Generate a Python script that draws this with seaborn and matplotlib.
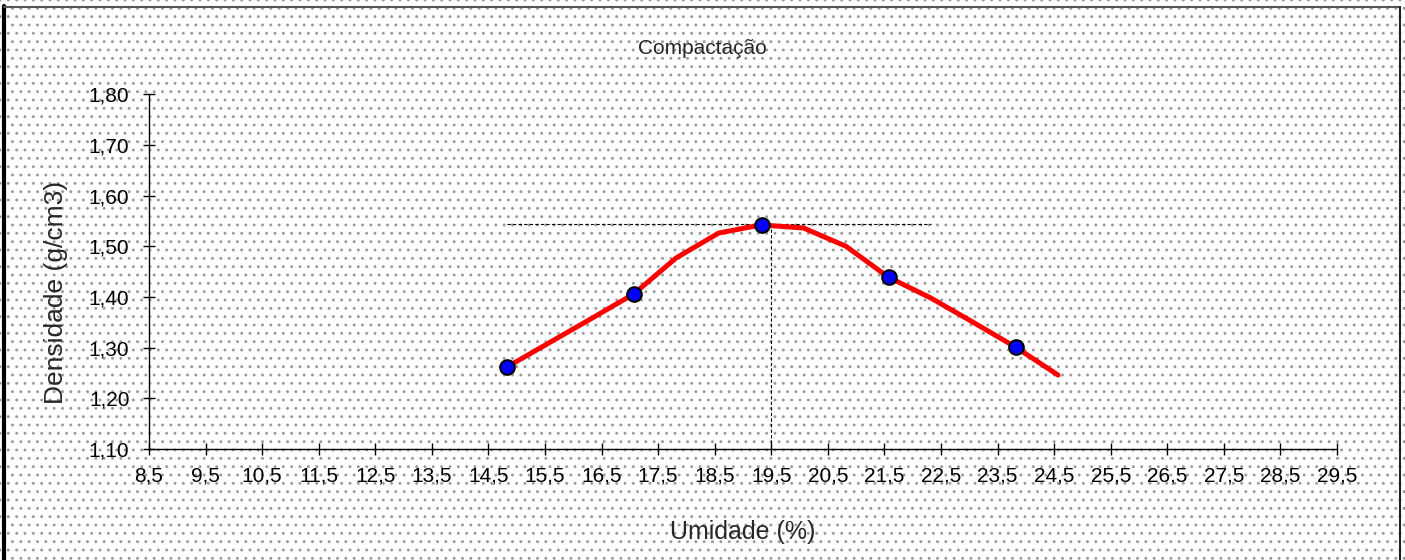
import matplotlib
matplotlib.use("Agg")
import matplotlib.pyplot as plt
import matplotlib.ticker as mticker
from matplotlib.patches import Rectangle
from matplotlib.lines import Line2D
import seaborn as sns
import pandas as pd
import numpy as np

# Ensaio de compactação - pontos medidos
umidade_pts = [14.83, 17.07, 19.34, 21.58, 23.83]
densidade_pts = [1.262, 1.406, 1.542, 1.439, 1.301]

# Curva ajustada
umidade_curva = [14.83, 15.58, 16.33, 17.07, 17.82, 18.57, 19.32, 20.07,
                 20.82, 21.57, 22.32, 23.07, 23.82, 24.57]
densidade_curva = [1.262, 1.310, 1.358, 1.406, 1.477, 1.526, 1.542, 1.536,
                   1.500, 1.439, 1.398, 1.350, 1.301, 1.246]

# Umidade ótima e densidade máxima
umidade_otima = 19.5
densidade_max = 1.543
linha_h_inicio = 14.83
linha_h_fim = 22.32

x_ticks = np.arange(8.5, 29.6, 1.0)
y_ticks = [1.10, 1.20, 1.30, 1.40, 1.50, 1.60, 1.70, 1.80]

sns.set_style("white")
plt.rcParams['font.family'] = ['Liberation Sans', 'DejaVu Sans']
plt.rcParams['hatch.linewidth'] = 0.9

fig = plt.figure(figsize=(14.05, 5.6), dpi=100)

# fundo pontilhado estilo Excel
bg = Rectangle((0, 0), 1, 1, transform=fig.transFigure, facecolor='white',
               edgecolor='#9a9a9a', hatch='..', linewidth=0, zorder=-10)
fig.patches.append(bg)
# moldura
fig.lines.append(Line2D([0.0025, 0.0025], [0, 0.99], transform=fig.transFigure,
                        color='black', linewidth=3))
fig.lines.append(Line2D([0.0025, 0.9965], [0.9875, 0.9875], transform=fig.transFigure,
                        color='#555555', linewidth=1.5))
fig.lines.append(Line2D([0.9965, 0.9965], [0, 0.9875], transform=fig.transFigure,
                        color='#222222', linewidth=1.5))

ax = fig.add_axes([0.106, 0.198, 0.8456, 0.634])
ax.set_facecolor('none')

curva = pd.DataFrame({'umidade': umidade_curva, 'densidade': densidade_curva})
pontos = pd.DataFrame({'umidade': umidade_pts, 'densidade': densidade_pts})

ax.plot([linha_h_inicio, linha_h_fim], [densidade_max, densidade_max],
        color='black', linewidth=0.8, linestyle=(0, (3, 2)), zorder=1)
ax.plot([umidade_otima, umidade_otima], [1.10, densidade_max],
        color='black', linewidth=0.8, linestyle=(0, (3, 2)), zorder=1)

sns.lineplot(data=curva, x='umidade', y='densidade', color='#ff0000',
             linewidth=3.6, sort=False, ax=ax, zorder=2)
sns.scatterplot(data=pontos, x='umidade', y='densidade', color='#0000ff',
                edgecolor='black', linewidth=1.5, s=110, ax=ax, zorder=3)

ax.set_xlim(8.5, 29.5)
ax.set_ylim(1.10, 1.80)
ax.set_xticks(x_ticks)
ax.set_yticks(y_ticks)
ax.xaxis.set_major_formatter(mticker.FuncFormatter(lambda v, p: f"{v:.1f}".replace('.', ',')))
ax.yaxis.set_major_formatter(mticker.FuncFormatter(lambda v, p: f"{v:.2f}".replace('.', ',')))
ax.tick_params(axis='both', bottom=True, left=True, direction='inout', length=9,
               width=1, color='black', labelsize=15, labelcolor='black')
ax.tick_params(axis='x', pad=8)
ax.tick_params(axis='y', pad=9.5)

for side in ['top', 'right']:
    ax.spines[side].set_visible(False)
for side in ['left', 'bottom']:
    ax.spines[side].set_color('black')
    ax.spines[side].set_linewidth(1)

ax.set_xlabel('Umidade (%)', fontsize=18)
ax.set_ylabel('Densidade (g/cm3)', fontsize=19)
ax.xaxis.set_label_coords(0.5, -0.2)
ax.yaxis.set_label_coords(-0.068, 0.44)

fig.text(0.5, 0.913, 'Compactação', ha='center', va='center', fontsize=15)

fig.savefig('out.png', dpi=100)
